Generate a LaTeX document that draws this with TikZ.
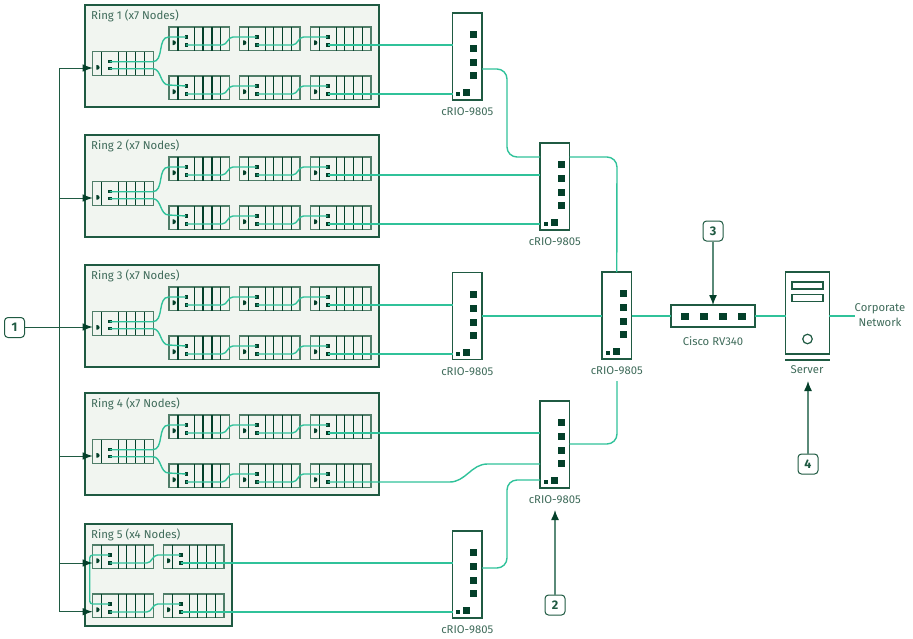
\documentclass[tikz,border=0pt]{standalone}
\usepackage{fontspec}
\setmainfont{Fira Sans}
\usetikzlibrary{arrows.meta,calc}
\definecolor{deep}{HTML}{04402A}
\definecolor{edge}{HTML}{1F5A42}
\definecolor{modedge}{HTML}{4F7D68}
\definecolor{wirec}{HTML}{30C29A}
\definecolor{panel}{HTML}{F1F5F0}
\definecolor{labelc}{HTML}{3F6B5A}
\definecolor{shaft}{HTML}{5A8A78}
\tikzset{
  ringbox/.style={draw=edge,line width=1.5pt,fill=panel,minimum width=#1,minimum height=102,anchor=north west,inner sep=0pt,outer sep=0pt},
  modbox/.style={draw=modedge,line width=1.1pt,fill=panel,minimum width=60.5,minimum height=23.5,anchor=north west,inner sep=0pt,outer sep=0pt},
  crio/.style={draw=edge,line width=1.4pt,fill=white,minimum width=29.5,minimum height=87,anchor=north west,inner sep=0pt,outer sep=0pt},
  devtext/.style={text=labelc,font=\fontsize{11.3}{13}\selectfont,align=center,inner sep=0pt},
  ringtext/.style={text=labelc,font=\fontsize{11.4}{13}\selectfont,anchor=west,inner sep=0pt},
  divider/.style={draw=deep,line width=1.1pt},
  led/.style={fill=deep,draw=none},
  wire/.style={draw=wirec,line width=1.4pt},
  trunk/.style={wire,rounded corners=10pt},
  feed/.style={draw=edge,line width=1pt},
  feedtip/.style={-{Latex[length=10pt,width=7.5pt,color=deep]}},
  callout/.style={draw=edge,line width=1pt,fill=white,rounded corners=3.5pt,minimum size=20,inner sep=0pt,text=edge,font=\fontsize{12.5}{14}\selectfont\bfseries},
  pointer/.style={draw=shaft,line width=1.3pt,-{Latex[length=10pt,width=8pt,color=deep]}},
}
% name, x, y, second-port offset
\newcommand{\plcmodule}[4]{%
  \begin{scope}[shift={(#2,#3)}]
    \node[modbox] (#1) at (0,0) {};
    \foreach \dx in {9,25.6,34,43,51.6} {\draw[divider] (\dx,0) -- (\dx,23.5);}
    \fill[deep] (3.6,13.4) -- (4.6,13.4) arc[start angle=-90,end angle=90,radius=2.3] -- (3.6,18) -- cycle;
    \fill[deep] (15.5,8.4) rectangle (19,11.6);
    \fill[deep] (15.5,#4-1.6) rectangle (19,#4+1.6);
    \coordinate (#1-p) at (17,10);
    \coordinate (#1-q) at (17,#4);
  \end{scope}}
% name, x, y
\newcommand{\criounit}[3]{%
  \begin{scope}[shift={(#2,#3)}]
    \node[crio] (#1) at (0,0) {};
    \foreach \sy in {18,32,46,59} {\fill[led] (17.5,\sy) rectangle (24.5,\sy+7);}
    \fill[led] (3.5,79) rectangle (7.5,83);
    \fill[led] (10.5,76) rectangle (17.5,83);
    \node[devtext,anchor=center] (#1-label) at (14.75,98.8) {cRIO-9805};
  \end{scope}}
% n, top: a seven-node ring
\newcommand{\bigring}[2]{%
  \node[ringbox=294] (r#1) at (85,#2) {};
  \node[ringtext] (r#1-title) at (91,#2+10.5) {Ring #1 (x7 Nodes)};
  \plcmodule{r#1-h}{92.7}{#2+46.7}{17}
  \plcmodule{r#1-a}{169}{#2+22}{18}
  \plcmodule{r#1-b}{239.5}{#2+22}{18}
  \plcmodule{r#1-c}{310.5}{#2+22}{18}
  \plcmodule{r#1-d}{169}{#2+71}{18}
  \plcmodule{r#1-e}{239.5}{#2+71}{18}
  \plcmodule{r#1-f}{310.5}{#2+71}{18}
  \draw[wire] (r#1-h-p) -- ++(43,0) to[out=0,in=180] ++(16,-24.7) -- (r#1-a-p);
  \draw[wire] (r#1-h-q) -- ++(43,0) to[out=0,in=180] ++(16,16.3) -- (r#1-d-p);
  \draw[wire] (r#1-a-q) -- ++(36,0) to[out=0,in=180] ++(11,-8) -- (r#1-b-p);
  \draw[wire] (r#1-b-q) -- ++(36,0) to[out=0,in=180] ++(11,-8) -- (r#1-c-p);
  \draw[wire] (r#1-d-q) -- ++(36,0) to[out=0,in=180] ++(11,-8) -- (r#1-e-p);
  \draw[wire] (r#1-e-q) -- ++(36,0) to[out=0,in=180] ++(11,-8) -- (r#1-f-p);
}
\begin{document}
\begin{tikzpicture}[x=1pt,y=-1pt]
\useasboundingbox (0,0) rectangle (913,638);
% rings
\bigring{1}{5}
\bigring{2}{135}
\bigring{3}{265}
\bigring{4}{393}
\node[ringbox=147] (r5) at (85,524) {};
\node[ringtext] (r5-title) at (91,534.5) {Ring 5 (x4 Nodes)};
\plcmodule{r5-a}{92.7}{545}{18}
\plcmodule{r5-b}{163.5}{545}{18}
\plcmodule{r5-c}{92.7}{594}{18}
\plcmodule{r5-d}{163.5}{594}{18}
\draw[trunk,rounded corners=3pt] (r5-a-p) -- ++(-20,0) -- ++(0,49) -- (r5-c-p);
\draw[wire] (r5-a-q) -- ++(37,0) to[out=0,in=180] ++(11,-8) -- (r5-b-p);
\draw[wire] (r5-c-q) -- ++(37,0) to[out=0,in=180] ++(11,-8) -- (r5-d-p);
% controllers
\criounit{ca}{452.5}{13}
\criounit{cb}{540}{143}
\criounit{cc}{602}{272}
\criounit{cd}{452.5}{272.5}
\criounit{ce}{540}{401}
\criounit{cf}{452.5}{531}
% router
\node[draw=edge,line width=1.2pt,fill=white,minimum width=84,minimum height=22,inner sep=0pt,outer sep=0pt] (router) at (713,316) {};
\foreach \sx in {681,700,719,738} {\fill[led] (\sx,312.5) rectangle (\sx+8,320);}
\node[devtext] (router-label) at (713,341) {Cisco RV340};
% server
\node[draw=edge,line width=1.4pt,fill=white,minimum width=43.5,minimum height=82,inner sep=0pt,outer sep=0pt] (server) at (807.5,313) {};
\node[draw=edge,line width=1.1pt,fill=white,minimum width=31,minimum height=7,inner sep=0pt] (slot1) at (807.5,285.5) {};
\node[draw=edge,line width=1.1pt,fill=white,minimum width=31,minimum height=7,inner sep=0pt] (slot2) at (807.5,298) {};
\node[draw=edge,line width=1.2pt,circle,minimum size=9.5,inner sep=0pt] (led) at (807.5,339) {};
\coordinate (baseL) at (785,360);
\coordinate (baseR) at (830,360);
\draw[edge,line width=1.2pt] (baseL) -- (baseR);
\node[devtext] (server-label) at (807,370) {Server};
\node[devtext] (corp) at (880,315) {Corporate\\[2pt]Network};
% ring to controller wires
\draw[wire] (r1-c-q) -- (ca.west |- r1-c-q);
\draw[wire] (r1-f-q) -- (ca.west |- r1-f-q);
\draw[wire] (r2-c-q) -- (cb.west |- r2-c-q);
\draw[wire] (r2-f-q) -- (cb.west |- r2-f-q);
\draw[wire] (r3-c-q) -- (cd.west |- r3-c-q);
\draw[wire] (r3-f-q) -- (cd.west |- r3-f-q);
\draw[wire] (r4-c-q) -- (ce.west |- r4-c-q);
\draw[wire] (r4-f-q) -- ++(122,0) to[out=0,in=180] ++(38,-18) -- (ce.west |- 0,464);
\draw[wire] (r5-b-q) -- (cf.west |- r5-b-q);
\draw[wire] (r5-d-q) -- (cf.west |- r5-d-q);
% controller backbone
\coordinate (abend) at (507,69);
\draw[trunk] (ca.east |- abend) -- (abend) -- (abend |- 0,157) -- (cb.west |- 0,157);
\draw[trunk] (cb.east |- 0,157) -- (617,157) -- (cc.north);
\draw[wire] (cd.east |- 0,316) -- (cc.west |- 0,316);
\coordinate (fbend) at (507,568);
\draw[trunk] (cf.east |- fbend) -- (fbend) -- (fbend |- 0,480) -- (ce.west |- 0,480);
\coordinate (cfoot) at (617,381);
\draw[trunk] (ce.east |- 0,444) -- (617,444) -- (cfoot);
\draw[wire] (cc.east |- router.west) -- (router.west);
\draw[wire] (router.east) -- (server.west |- router.east);
\draw[wire] (server.east |- router.east) -- (corp.west |- router.east);
% feed bus
\coordinate (bus1) at (59,68);
\coordinate (bus2) at (59,611.7);
\node[callout] (n1) at (14.5,327.5) {1};
\draw[feed] (bus1) -- (bus2);
\draw[feed,feedtip] (bus1) -- (r1-h.west |- bus1);
\draw[feed,feedtip] (59,198) -- (r2-h.west |- 0,198);
\draw[feed,feedtip] (n1.east |- 0,327) -- (r3-h.west |- 0,327);
\draw[feed,feedtip] (59,456) -- (r4-h.west |- 0,456);
\draw[feed,feedtip] (59,563) -- (r5-a.west |- 0,563);
\draw[feed,feedtip] (bus2) -- (r5-c.west |- bus2);
% callouts
\node[callout] (n2) at (555,605) {2};
\node[callout] (n3) at (713,231) {3};
\node[callout] (n4) at (808,464) {4};
\coordinate (t2) at (555,510);
\coordinate (t4) at (808,381);
\draw[pointer] (n2) -- (t2);
\draw[pointer] (n3) -- (router.north);
\draw[pointer] (n4) -- (t4);
\end{tikzpicture}
\end{document}
